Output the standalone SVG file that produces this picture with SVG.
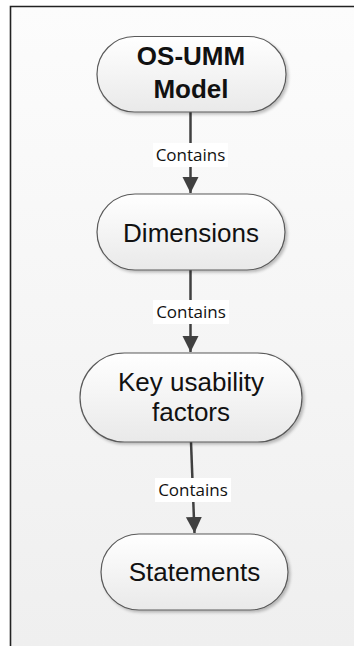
<svg xmlns="http://www.w3.org/2000/svg" width="354" height="646" viewBox="0 0 354 646">
<defs>
<linearGradient id="bg" x1="0" y1="0" x2="0" y2="1">
<stop offset="0" stop-color="#fcfcfc"/>
<stop offset="1" stop-color="#efefef"/>
</linearGradient>
<linearGradient id="nodeFill" x1="0" y1="0" x2="0" y2="1">
<stop offset="0" stop-color="#ffffff"/>
<stop offset="1" stop-color="#e9e9e9"/>
</linearGradient>
<filter id="shadow" x="-10%" y="-10%" width="130%" height="140%">
<feGaussianBlur in="SourceAlpha" stdDeviation="1.5"/>
<feOffset dx="2" dy="2" result="b"/>
<feComponentTransfer><feFuncA type="linear" slope="0.25"/></feComponentTransfer>
<feMerge><feMergeNode/><feMergeNode in="SourceGraphic"/></feMerge>
</filter>
<marker id="arrow" markerUnits="userSpaceOnUse" markerWidth="18" markerHeight="18" viewBox="0 0 18 18" refX="16" refY="9" orient="auto">
<path d="M0,1 L16,9 L0,17 Z" fill="#404040"/>
</marker>
</defs>
<style>
.node{fill:url(#nodeFill);stroke:#5a5a5a;stroke-width:1.2;filter:url(#shadow)}
.t{font-family:"Liberation Sans",Arial,sans-serif;font-size:26px;fill:#111;text-anchor:middle}
.b{font-weight:bold}
.edge{stroke:#404040;stroke-width:2.5;fill:none;marker-end:url(#arrow)}
.lblbox{fill:#ffffff}
.lbl{font-family:"Open Sans","Noto Sans",sans-serif;font-size:17px;fill:#111;text-anchor:middle}
</style>
<rect x="0" y="0" width="354" height="646" fill="#ffffff"/>
<rect x="10.5" y="6.5" width="344" height="640" fill="url(#bg)"/>
<path d="M10.5,646 L10.5,6.5 L354,6.5" fill="none" stroke="#222" stroke-width="1.6"/>

<g id="connectors">
<line class="edge" x1="190.5" y1="112" x2="190.5" y2="193"/>
<rect class="lblbox" x="153" y="143" width="75" height="24"/>
<text class="lbl" x="190.5" y="161">Contains</text>

<line class="edge" x1="190.5" y1="270" x2="190.5" y2="352"/>
<rect class="lblbox" x="153" y="300" width="76" height="24"/>
<text class="lbl" x="191" y="318">Contains</text>

<line class="edge" x1="191" y1="442" x2="194.5" y2="533"/>
<rect class="lblbox" x="155" y="478" width="76" height="24"/>
<text class="lbl" x="193" y="496">Contains</text>
</g>

<g id="node-osumm">
<rect class="node" x="97" y="36.5" width="189" height="75.5" rx="37.5" ry="37.5"/>
<text class="t b" x="191" y="65">OS-UMM</text>
<text class="t b" x="191" y="98">Model</text>
</g>

<g id="node-dimensions">
<rect class="node" x="97" y="194" width="188" height="76" rx="38" ry="38"/>
<text class="t" x="191" y="242">Dimensions</text>
</g>

<g id="node-factors">
<rect class="node" x="80" y="353" width="222" height="89" rx="44.5" ry="44.5"/>
<text class="t" x="191" y="391">Key usability</text>
<text class="t" x="191" y="421">factors</text>
</g>

<g id="node-statements">
<rect class="node" x="101" y="534" width="187" height="76" rx="38" ry="38"/>
<text class="t" x="194.5" y="581">Statements</text>
</g>
</svg>
